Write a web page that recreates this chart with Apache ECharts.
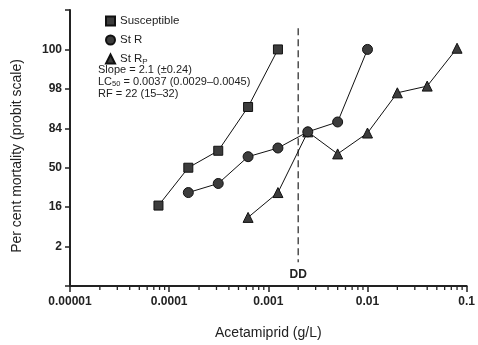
<!DOCTYPE html>
<html>
<head>
<meta charset="utf-8">
<script src="https://cdn.jsdelivr.net/npm/echarts@6/dist/echarts.min.js"></script>
<style>
html,body{margin:0;padding:0;background:#fff;}
#chart{width:478px;height:345px;}
</style>
</head>
<body>
<div id="chart"></div>
<script>
// ---- data ----
var susDose = [0.000078, 0.000156, 0.0003125, 0.000625, 0.00125];
var susProbit = [-0.96, 0.0, 0.43, 1.54, 3.0];

var strDose = [0.000156, 0.0003125, 0.000625, 0.00125, 0.0025, 0.005, 0.01];
var strProbit = [-0.63, -0.40, 0.28, 0.50, 0.91, 1.16, 3.0];

var strpDose = [0.000625, 0.00125, 0.0025, 0.005, 0.01, 0.02, 0.04, 0.08];
var strpProbit = [-1.26, -0.63, 0.91, 0.35, 0.88, 1.90, 2.07, 3.03];

var ddDose = 0.002;
var ddRange = [3.54, -2.4];

var probitTicks = [-2, -1, 0, 1, 2, 3];
var probitLabels = ['2', '16', '50', '84', '98', '100'];

var xMin = 0.00001, xMax = 0.1;
var minorMultipliers = [2, 3, 4, 5, 6, 7, 8, 9];
var decades = [0.00001, 0.0001, 0.001, 0.01];

// ---- build ----
function pairs(xs, ys) { return xs.map(function (x, i) { return [x, ys[i]]; }); }
var minorTickVals = [];
decades.forEach(function (d) { minorMultipliers.forEach(function (m) { minorTickVals.push(m * d); }); });

var FONT = 'Liberation Sans, Arial, sans-serif';
var INK = '#222';
var markerStyle = { color: '#3c3c3c', borderColor: '#111', borderWidth: 1 };

var chart = echarts.init(document.getElementById('chart'), null, { renderer: 'canvas' });
chart.setOption({
  backgroundColor: '#fff',
  animation: false,
  textStyle: { fontFamily: FONT },
  grid: { left: 70, right: 6, top: 10, bottom: 58, containLabel: false },
  legend: {
    orient: 'vertical', left: 100, top: 9,
    itemWidth: 9, itemHeight: 9, itemGap: 5,
    selectedMode: false,
    textStyle: {
      fontFamily: FONT, fontSize: 11.5, color: INK, lineHeight: 14,
      rich: {
        a: { fontFamily: FONT, fontSize: 11.5, color: INK, lineHeight: 14 },
        b: { fontFamily: FONT, fontSize: 8, color: INK, lineHeight: 8, verticalAlign: 'bottom' }
      }
    },
    formatter: function (n) { return n === 'St RP' ? '{a|St R}{b|P}' : n; },
    data: [
      { name: 'Susceptible', icon: 'rect' },
      { name: 'St R', icon: 'circle' },
      { name: 'St RP', icon: 'triangle' }
    ]
  },
  graphic: [{
    type: 'text', left: 98, top: 64,
    style: {
      text: 'Slope = 2.1 (±0.24)\n{n|LC}{s|50}{n| = 0.0037 (0.0029–0.0045)}\nRF = 22 (15–32)',
      font: '11px ' + FONT, fill: INK, lineHeight: 12,
      rich: {
        n: { fontSize: 11, fontFamily: FONT, fill: INK, lineHeight: 12 },
        s: { fontSize: 7.5, fontFamily: FONT, fill: INK, lineHeight: 7, verticalAlign: 'bottom' }
      }
    }
  }],
  xAxis: {
    type: 'log', logBase: 10, min: xMin, max: xMax,
    name: 'Acetamiprid (g/L)', nameLocation: 'middle', nameGap: 40,
    nameTextStyle: { fontFamily: FONT, fontSize: 14, color: INK },
    axisLine: { onZero: false, lineStyle: { color: INK, width: 2 } },
    axisTick: { show: true, length: 6, lineStyle: { color: INK, width: 1.5 } },
    axisLabel: {
      margin: 10, fontFamily: FONT, fontSize: 12, fontWeight: 'bold', color: INK,
      formatter: function (v) {
        var d = Math.max(0, -Math.round(Math.log10(v)));
        return Number(v).toFixed(d);
      }
    },
    splitLine: { show: false }, minorTick: { show: false }
  },
  yAxis: {
    type: 'value', min: -3, max: 4, interval: 1,
    name: 'Per cent mortality (probit scale)', nameLocation: 'middle', nameGap: 46,
    nameTextStyle: { fontFamily: FONT, fontSize: 14, color: INK, padding: [0, 16, 0, 0] },
    axisLine: { show: true, onZero: false, lineStyle: { color: INK, width: 2 } },
    axisTick: { show: true, length: 5, lineStyle: { color: INK, width: 1.5 } },
    axisLabel: {
      margin: 8, fontFamily: FONT, fontSize: 12, fontWeight: 'bold', color: INK,
      formatter: function (v) {
        var i = probitTicks.indexOf(Math.round(v));
        return i >= 0 ? probitLabels[i] : '';
      }
    },
    splitLine: { show: false }
  },
  series: [
    {
      name: 'minorTicks', type: 'custom', silent: true, clip: false, z: 5,
      data: minorTickVals.map(function (v) { return [v, -3]; }),
      renderItem: function (params, api) {
        var p = api.coord([api.value(0), api.value(1)]);
        return { type: 'line', shape: { x1: p[0], y1: p[1], x2: p[0], y2: p[1] + 4 },
                 style: { stroke: INK, lineWidth: 1.3 } };
      }
    },
    {
      name: 'DD', type: 'line', silent: true, z: 1,
      data: [
        { value: [ddDose, ddRange[0]], symbol: 'none' },
        { value: [ddDose, ddRange[1]], symbol: 'circle', symbolSize: 0,
          label: { show: true, position: 'bottom', distance: 6, formatter: 'DD',
                   fontFamily: FONT, fontSize: 12, fontWeight: 'bold', color: INK } }
      ],
      lineStyle: { color: INK, width: 1.2, type: [7, 4] },
      itemStyle: { color: INK }
    },
    {
      name: 'Susceptible', type: 'line', data: pairs(susDose, susProbit), z: 3,
      symbol: 'rect', symbolSize: 9,
      lineStyle: { color: '#111', width: 1 }, itemStyle: markerStyle
    },
    {
      name: 'St RP', type: 'line', data: pairs(strpDose, strpProbit), z: 3,
      symbol: 'triangle', symbolSize: 10,
      lineStyle: { color: '#111', width: 1 }, itemStyle: markerStyle
    },
    {
      name: 'St R', type: 'line', data: pairs(strDose, strProbit), z: 4,
      symbol: 'circle', symbolSize: 10,
      lineStyle: { color: '#111', width: 1 }, itemStyle: markerStyle
    }
  ]
});
</script>
</body>
</html>
